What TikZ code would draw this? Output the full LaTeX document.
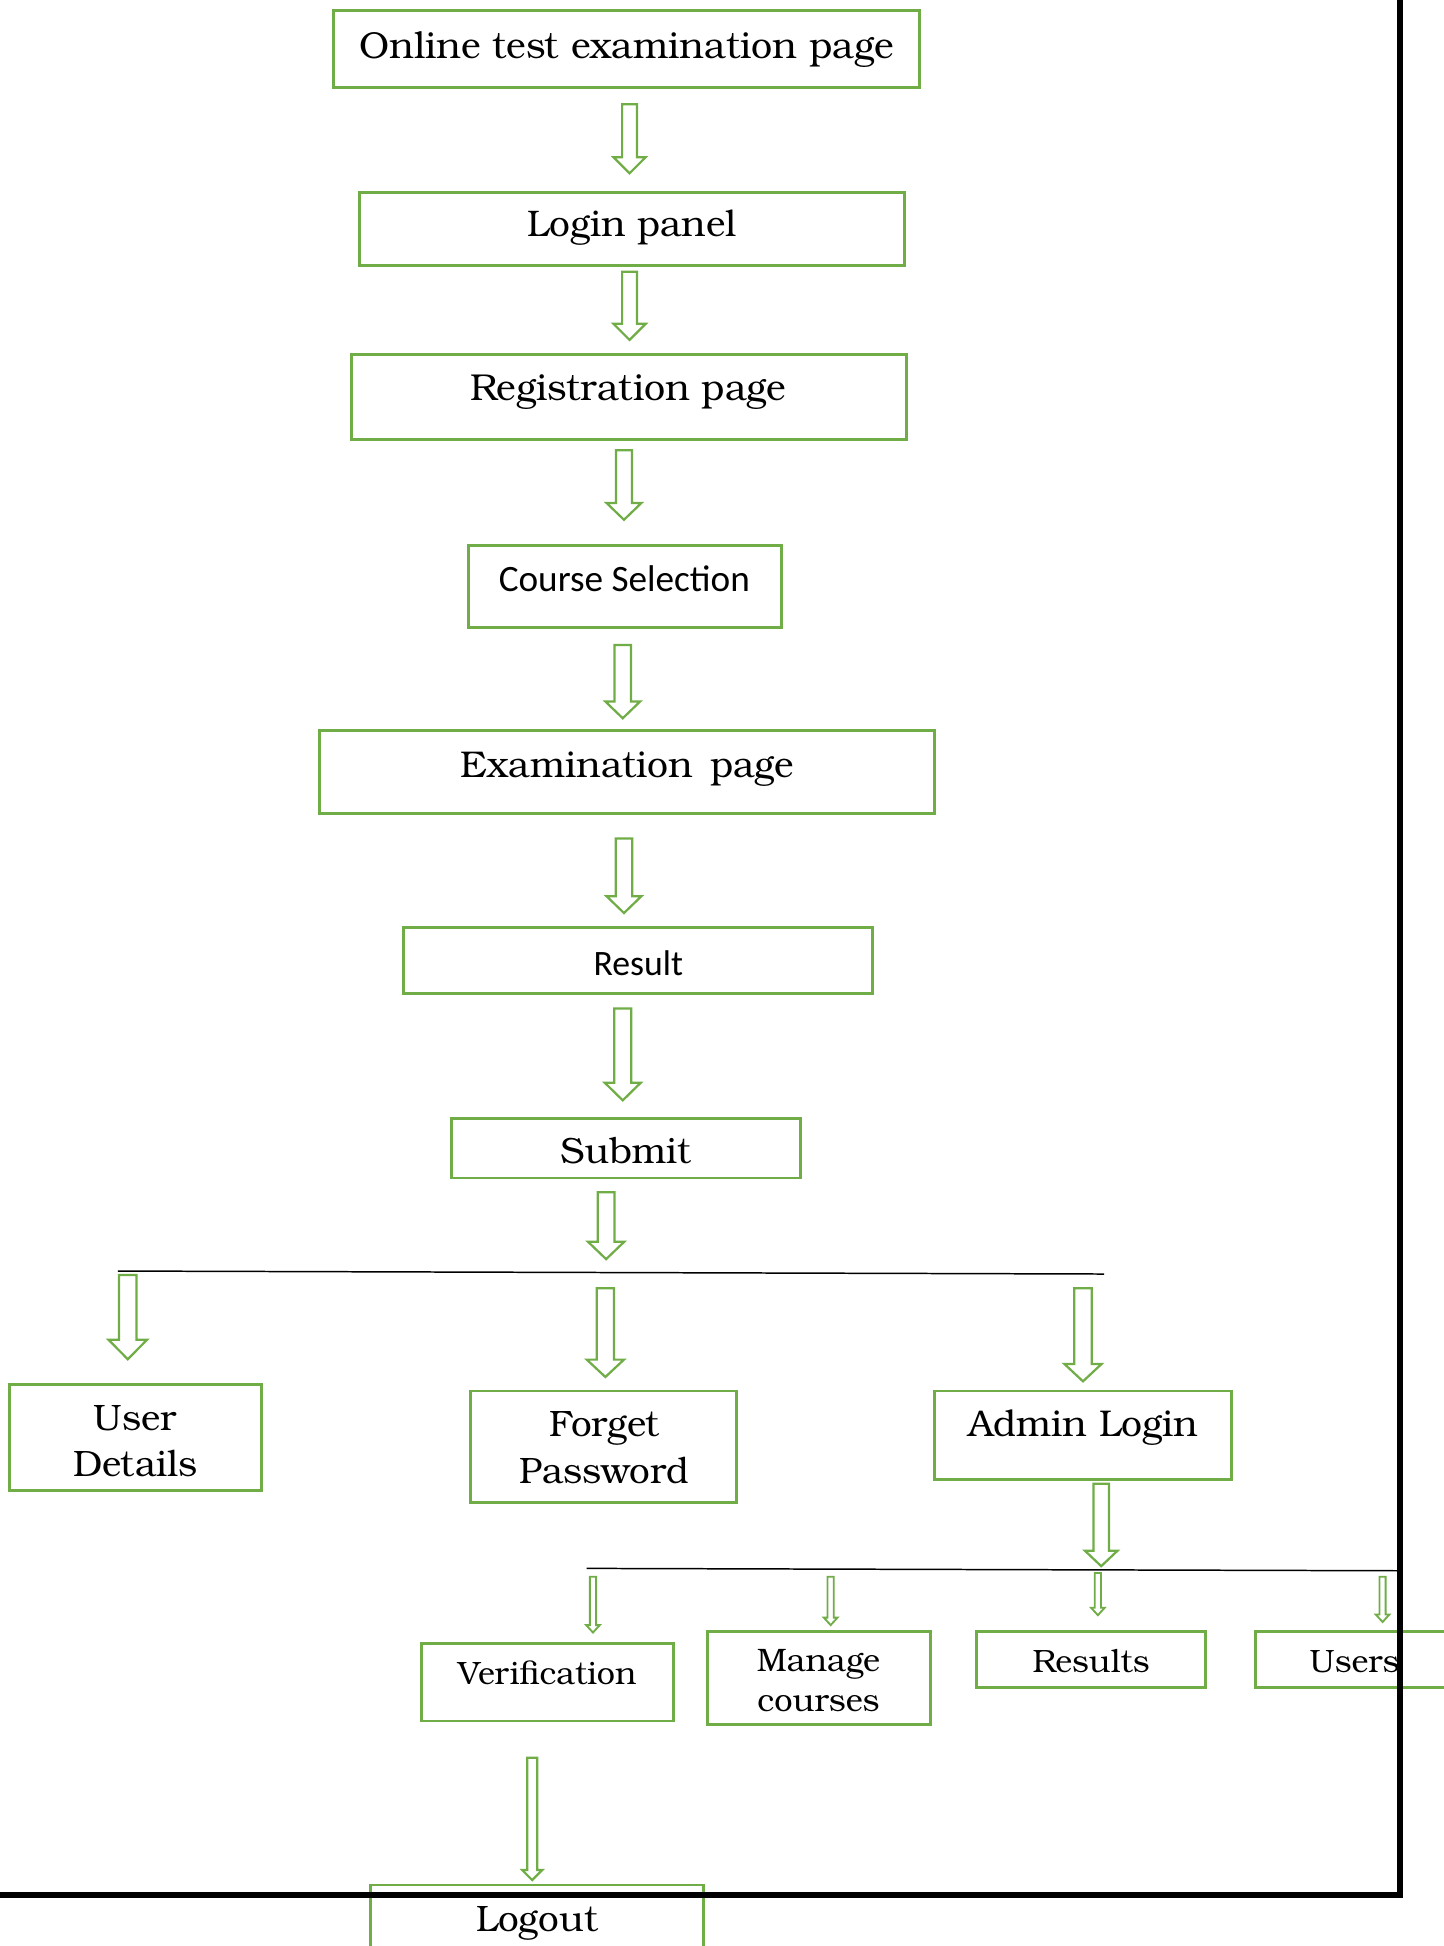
\documentclass[tikz,border=0pt]{standalone}
\usepackage{fontspec}
\setmainfont{TeX Gyre Bonum}
\newfontfamily\calib{Carlito}
\usetikzlibrary{fit}
\definecolor{ogreen}{HTML}{70AD47}
\tikzset{
  x=0.5pt, y=-0.5pt,
  box/.style={draw=ogreen, line width=1.2pt, inner sep=0pt},
  txt/.style={anchor=base, inner sep=0pt, text=black},
  rule/.style={draw=black, line width=0.6pt},
  frame/.style={draw=black, line width=2.5pt, line join=miter},
  pics/barrow/.style n args={5}{code={
    \draw[draw=ogreen, fill=white, line width=#5, line join=miter]
      (-#2,0) -- (#2,0) -- (#2,{#1-#4}) -- (#3,{#1-#4}) -- (0,#1)
      -- (-#3,{#1-#4}) -- (-#2,{#1-#4}) -- cycle;
  }}
}
\begin{document}
\begin{tikzpicture}
\useasboundingbox (0,0) rectangle (1164,1568.7);
\clip (0,0) rectangle (1164,1568.7);

% boxes
\node[box, fit={(269,8.6) (741,70.7)}] (b1) {};
\node[box, fit={(289.5,155) (729,214.2)}] (b2) {};
\node[box, fit={(283,285.4) (731,354)}] (b3) {};
\node[box, fit={(377.5,439.4) (630,506)}] (b4) {};
\node[box, fit={(257.6,589) (753,655.5)}] (b5) {};
\node[box, fit={(325,748) (703.7,800.7)}] (b6) {};
\node[box, fit={(363.6,901.5) (645,949.6)}] (b7) {};
\node[box, fit={(7.4,1115.7) (210.5,1201.7)}] (b8) {};
\node[box, fit={(379.6,1121.3) (594,1211)}] (b9) {};
\node[box, fit={(753.5,1121.3) (992.8,1192.3)}] (b10) {};
\node[box, fit={(340,1324.7) (543.3,1387.3)}] (b11) {};
\node[box, fit={(570,1314.8) (749.7,1389.8)}] (b12) {};
\node[box, fit={(787,1314.8) (971.9,1360.5)}] (b13) {};
\node[box, fit={(1012.4,1314.8) (1220,1360.5)}] (b14) {};
\node[box, fit={(298.3,1519.5) (567,1620)}] (b15) {};

% texts
\node[txt, font=\fontsize{15.1}{18}\selectfont] (t1) at (505,47) {Online test examination page};
\node[txt, font=\fontsize{14.9}{18}\selectfont] (t2) at (509.4,191) {Login panel};
\node[txt, font=\fontsize{15.1}{18}\selectfont] (t3) at (506.3,323) {Registration page};
\node[txt, font=\calib\fontsize{15}{18}\selectfont] (t4) at (503.3,477) {Course Selection};
\node[txt, font=\fontsize{15}{18}\selectfont] (t5) at (505.6,626.5) {Examination\hspace{0.45em}page};
\node[txt, font=\calib\fontsize{14.4}{18}\selectfont] (t6) at (514.5,786) {Result};
\node[txt, font=\fontsize{14.7}{18}\selectfont] (t7) at (504.4,937.7) {Submit};
\node[txt, font=\fontsize{14.8}{18.8}\selectfont] (t8) at (109.2,1152.8)
  {\begin{tabular}[t]{@{}c@{}}User\\Details\end{tabular}};
\node[txt, font=\fontsize{14.8}{19}\selectfont] (t9) at (487,1158)
  {\begin{tabular}[t]{@{}c@{}}Forget\\Password\end{tabular}};
\node[txt, font=\fontsize{15}{18}\selectfont] (t10) at (873.2,1158) {Admin Login};
\node[txt, font=\fontsize{13}{16}\selectfont] (t11) at (441,1357.5) {Verification};
\node[txt, font=\fontsize{13.1}{16.25}\selectfont] (t12) at (659.8,1347.5)
  {\begin{tabular}[t]{@{}c@{}}Manage\\courses\end{tabular}};
\node[txt, font=\fontsize{13}{16}\selectfont] (t13) at (879.5,1348.5) {Results};
\node[txt, anchor=base west, font=\fontsize{13}{16}\selectfont] (t14) at (1055.3,1348.5) {Users};
\node[txt, font=\fontsize{14.8}{18}\selectfont] (t15) at (433,1556.6) {Logout};

% branch rules
\coordinate (r1a) at (95,1024.6);
\coordinate (r1b) at (890,1027);
\draw[rule] (r1a) -- (r1b);
\coordinate (r2a) at (472.8,1264.3);
\coordinate (r2b) at (1128,1266.2);
\draw[rule] (r2a) -- (r2b);

% block arrows
\pic at (507.5,84)   {barrow={55.7}{6}{13}{13}{0.9pt}};
\pic at (507.5,219)  {barrow={55}{6}{13}{13}{0.9pt}};
\pic at (503,363)    {barrow={56}{6.5}{14}{13.5}{0.9pt}};
\pic at (502,520)    {barrow={59}{6.7}{14}{13.5}{0.9pt}};
\pic at (503,676)    {barrow={60}{6.7}{14}{13.5}{0.9pt}};
\pic at (502,813)    {barrow={74}{6.8}{14.5}{14.2}{0.9pt}};
\pic at (488.6,961)  {barrow={54}{6.8}{14.6}{14}{0.9pt}};
\pic at (103,1027.8) {barrow={67.9}{7}{15.5}{15.7}{0.9pt}};
\pic at (488,1038.5) {barrow={71.5}{7}{15}{14}{0.9pt}};
\pic at (873,1038.5) {barrow={75}{7}{15}{14}{0.9pt}};
\pic at (887.7,1196) {barrow={66.5}{6.3}{13.2}{12.5}{0.9pt}};
\pic at (478,1271)   {barrow={45}{2.5}{5.5}{6}{0.75pt}};
\pic at (669.6,1271) {barrow={39}{2.5}{5.5}{6}{0.75pt}};
\pic at (885,1268)   {barrow={34}{2.5}{5.5}{6}{0.75pt}};
\pic at (1114.5,1271){barrow={36.5}{2.5}{5.5}{6}{0.75pt}};
\pic at (429,1417)   {barrow={98.5}{4}{8}{8}{0.9pt}};

% outer frame
\coordinate (fc) at (1128.5,1527.5);
\draw[frame] (0,1527.5) -- (fc) -- (1128.5,-5);
\end{tikzpicture}
\end{document}
